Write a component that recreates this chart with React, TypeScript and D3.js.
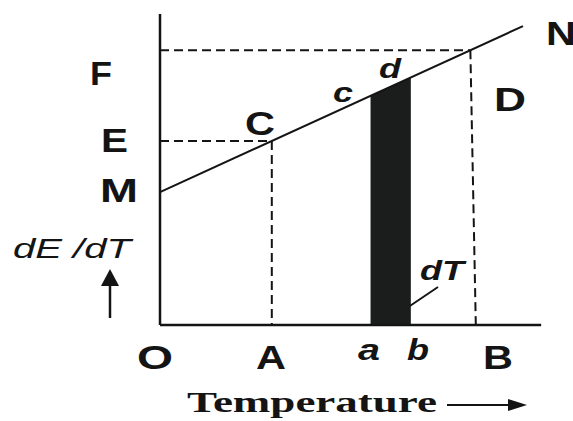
import * as d3 from "d3";

// temperature marks on the x axis (arbitrary units)
const xMarks = [
  { label: "O", t: 0, italic: false },
  { label: "A", t: 3.08, italic: false },
  { label: "a", t: 5.8, italic: true },
  { label: "b", t: 6.91, italic: true },
  { label: "B", t: 8.7, italic: false },
];
// straight line M -> N : [temperature, dE/dT]
const linePts: [number, number][] = [
  [0, 4.06],
  [10, 9.13],
];
const pointA = 3.08;
const pointB = 8.55;
const stripFrom = 5.8;
const stripTo = 6.91;

const W = 573;
const H = 421;
const ink = "#141414";

const App = () => {
  const x = d3.scaleLinear().domain([0, 10]).range([160, 523]);
  const y = d3.scaleLinear().domain([0, 9.5]).range([325, 14]);
  const val = d3.scaleLinear().domain([linePts[0][0], linePts[1][0]]).range([linePts[0][1], linePts[1][1]]);

  const line = d3
    .line<[number, number]>()
    .x((d) => x(d[0]))
    .y((d) => y(d[1]));

  const strip = d3
    .area<number>()
    .x((t) => x(t))
    .y0(y(0))
    .y1((t) => y(val(t)));

  const eA = val(pointA);
  const eB = val(pointB);

  const sans = "'Liberation Sans', Arial, sans-serif";

  // label helper: left, baseline, width
  const lab = (txt: string, lx: number, by: number, w: number, size = 33, italic = false) => (
    <text
      x={lx}
      y={by}
      fontFamily={sans}
      fontWeight="bold"
      fontStyle={italic ? "italic" : "normal"}
      fontSize={size}
      fill={ink}
      textLength={w}
      lengthAdjust="spacingAndGlyphs"
    >
      {txt}
    </text>
  );

  const markW: Record<string, number> = { O: 36, A: 30, a: 22, b: 22, B: 30 };
  const markX: Record<string, number> = { O: 137, A: 256, a: 358, b: 407, B: 483 };

  return (
    <svg width={W} height={H} style={{ position: "absolute", left: 0, top: 0, background: "#fff" }}>
      {/* dashed guides */}
      <g stroke={ink} strokeWidth={2} strokeDasharray="9,5" fill="none">
        <line x1={x(0)} y1={y(eA)} x2={x(pointA)} y2={y(eA)} />
        <line x1={x(pointA)} y1={y(eA)} x2={x(pointA)} y2={y(0)} />
        <line x1={x(0)} y1={y(eB)} x2={x(pointB)} y2={y(eB)} />
        <line x1={x(pointB)} y1={y(eB)} x2={x(8.7)} y2={y(0)} />
      </g>

      {/* strip dT */}
      <path d={strip([stripFrom, stripTo]) ?? ""} fill="#1b1d1d" />

      {/* axes */}
      <g stroke={ink} strokeWidth={2.5}>
        <line x1={x(0)} y1={y(9.5)} x2={x(0)} y2={y(0)} />
        <line x1={x(0)} y1={y(0)} x2={x(10.5)} y2={y(0)} />
      </g>

      {/* line M N */}
      <path d={line(linePts) ?? ""} stroke={ink} strokeWidth={2} fill="none" />

      {/* y labels */}
      {lab("F", 90, 85, 22)}
      {lab("E", 101, 152, 27)}
      {lab("M", 100, 202, 38)}
      {lab("C", 245, 135, 30)}
      {lab("D", 494, 111, 32)}
      {lab("N", 546, 45, 30)}
      {lab("c", 333, 102, 20, 28, true)}
      {lab("d", 379, 78, 22, 28, true)}

      {/* x marks */}
      {xMarks.map((m) =>
        lab(m.label, markX[m.label], m.italic ? 360 : 369, markW[m.label], m.italic ? 29 : 33, m.italic)
      )}

      {/* dT leader */}
      <line x1={x(stripTo) - 1} y1={306} x2={438} y2={287} stroke={ink} strokeWidth={2} />
      {lab("dT", 420, 280, 44, 28, true)}

      {/* y axis title */}
      <text
        x={13}
        y={258}
        fontFamily={sans}
        fontStyle="italic"
        fontSize={27}
        fill={ink}
        textLength={118}
        lengthAdjust="spacingAndGlyphs"
      >
        dE /dT
      </text>
      <line x1={110} y1={284} x2={110} y2={318} stroke={ink} strokeWidth={2.5} />
      <polygon points="110,269 101,286 119,286" fill={ink} />

      {/* x axis title */}
      <text
        x={187}
        y={412}
        fontFamily="'Liberation Serif', 'Times New Roman', serif"
        fontWeight="bold"
        fontSize={30}
        fill={ink}
        textLength={250}
        lengthAdjust="spacingAndGlyphs"
      >
        Temperature
      </text>
      <line x1={447} y1={405} x2={512} y2={405} stroke={ink} strokeWidth={2} />
      <polygon points="527,405 508,399 508,411" fill={ink} />
    </svg>
  );
};

export default App;
